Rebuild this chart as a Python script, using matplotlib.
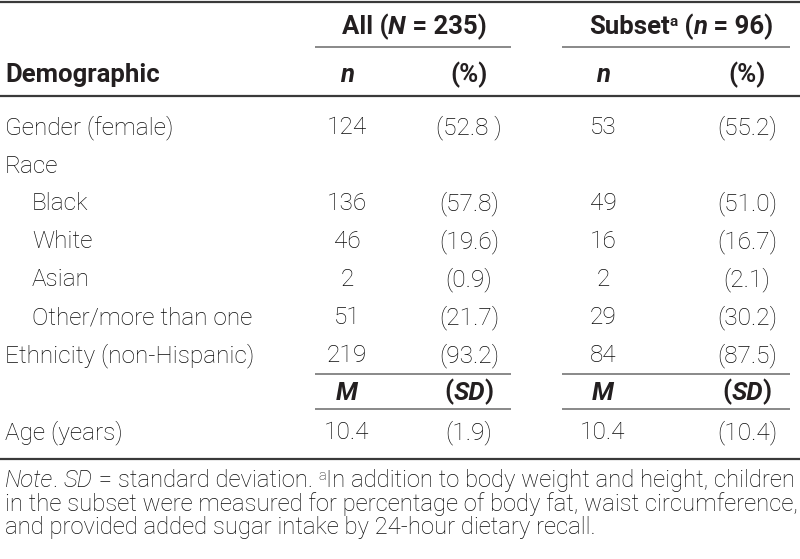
import matplotlib
matplotlib.use("Agg")
import matplotlib.pyplot as plt

# ---------------- data ----------------
row_labels = ["Gender (female)", "Race", "Black", "White", "Asian",
              "Other/more than one", "Ethnicity (non-Hispanic)"]
row_indent = [False, False, True, True, True, True, False]
all_n = ["124", "", "136", "46", "2", "51", "219"]
all_pct = ["(52.8 )", "", "(57.8)", "(19.6)", "(0.9)", "(21.7)", "(93.2)"]
sub_n = ["53", "", "49", "16", "2", "29", "84"]
sub_pct = ["(55.2)", "", "(51.0)", "(16.7)", "(2.1)", "(30.2)", "(87.5)"]
age_label = "Age (years)"
age_all = ["10.4", "(1.9)"]
age_sub = ["10.4", "(10.4)"]
N_all = 235
n_sub = 96

# ---------------- style ----------------
plt.rcParams["font.family"] = ["Roboto", "DejaVu Sans"]
TXT = "#231f20"
LTXT = "#0a0a0a"
FS = 17.6
FB = 18.5
NW = "light"

fig = plt.figure(figsize=(8, 5.59), dpi=100)
ax = fig.add_axes([0, 0, 1, 1])
ax.set_xlim(0, 800)
ax.set_ylim(559, 0)
ax.axis("off")
renderer = fig.canvas.get_renderer()


def width_of(s, size, weight, style):
    t = ax.text(0, 0, s + "|", fontsize=size, fontweight=weight, fontstyle=style)
    w1 = t.get_window_extent(renderer).width
    t.remove()
    t = ax.text(0, 0, "|", fontsize=size, fontweight=weight, fontstyle=style)
    w2 = t.get_window_extent(renderer).width
    t.remove()
    return w1 - w2


def segs(x, y, parts, ha="left", size=FS):
    """parts: list of (text, weight, style, scale, dy)"""
    ws = [width_of(p[0], size * p[3], p[1], p[2]) for p in parts]
    total = sum(ws)
    if ha == "center":
        x0 = x - total / 2
    elif ha == "right":
        x0 = x - total
    else:
        x0 = x
    for p, w in zip(parts, ws):
        col = LTXT if p[1] == NW else TXT
        ax.text(x0, y + p[4], p[0], fontsize=size * p[3], fontweight=p[1],
                fontstyle=p[2], color=col, va="baseline", ha="left")
        x0 += w


def txt(x, y, s, ha="center", weight=NW, style="normal", size=FS):
    col = LTXT if weight == NW else TXT
    ax.text(x, y, s, fontsize=size, fontweight=weight, fontstyle=style,
            color=col, ha=ha, va="baseline")


# columns
cx = [347, 469, 603, 747]
grp_all = (315, 511)
grp_sub = (562, 790)

# rules
for yy in (1.5, 96, 458.5):
    ax.plot([0, 800], [yy, yy], color="#3a3a3a", lw=1.6, solid_capstyle="butt")
for (a, b) in (grp_all, grp_sub):
    for yy in (47, 374, 409):
        ax.plot([a, b], [yy, yy], color="#6a6a6a", lw=1.1, solid_capstyle="butt")

# header
segs(414, 34, [("All (", "bold", "normal", 1, 0), ("N", "bold", "italic", 1, 0),
               (f" = {N_all})", "bold", "normal", 1, 0)], ha="center", size=FB)
segs(681, 34, [("Subset", "bold", "normal", 1, 0), ("a", "bold", "normal", 0.6, -8),
               (" (", "bold", "normal", 1, 0), ("n", "bold", "italic", 1, 0),
               (f" = {n_sub})", "bold", "normal", 1, 0)], ha="center", size=FB)
txt(5, 82, "Demographic", ha="left", weight="bold", size=FB)
for c, lab in zip(cx, ["n", "(%)", "n", "(%)"]):
    if lab == "n":
        txt(c, 82, lab, weight="bold", style="italic", size=FB)
    else:
        txt(c, 82, lab, weight="bold", size=FB)

# body rows
y0 = 134.5
dy = 38
for i, lab in enumerate(row_labels):
    y = y0 + i * dy
    txt(32 if row_indent[i] else 5, y, lab, ha="left")
    for c, v in zip(cx, [all_n[i], all_pct[i], sub_n[i], sub_pct[i]]):
        if v:
            txt(c, y, v)

# M / SD row
for c, kind in zip(cx, ["M", "SD", "M", "SD"]):
    if kind == "M":
        txt(c, 399.5, "M", weight="bold", style="italic", size=FB)
    else:
        segs(c, 399.5, [("(", "bold", "normal", 1, 0), ("SD", "bold", "italic", 1, 0),
                        (")", "bold", "normal", 1, 0)], ha="center", size=FB)

# age row
txt(5, 439, age_label, ha="left")
for c, v in zip(cx, age_all + age_sub):
    txt(c, 439, v)

# note
NS = 17.2
segs(5, 487, [("Note", NW, "italic", 1, 0), (". ", NW, "normal", 1, 0),
              ("SD", NW, "italic", 1, 0),
              (" = standard deviation. ", NW, "normal", 1, 0),
              ("a", NW, "normal", 0.6, -7),
              ("In addition to body weight and height, children", NW, "normal", 1, 0)],
     size=NS)
txt(5, 511, "in the subset were measured for percentage of body fat, waist circumference,",
    ha="left", size=NS)
txt(5, 534, "and provided added sugar intake by 24-hour dietary recall.", ha="left", size=NS)

fig.savefig("out.png", dpi=100)
